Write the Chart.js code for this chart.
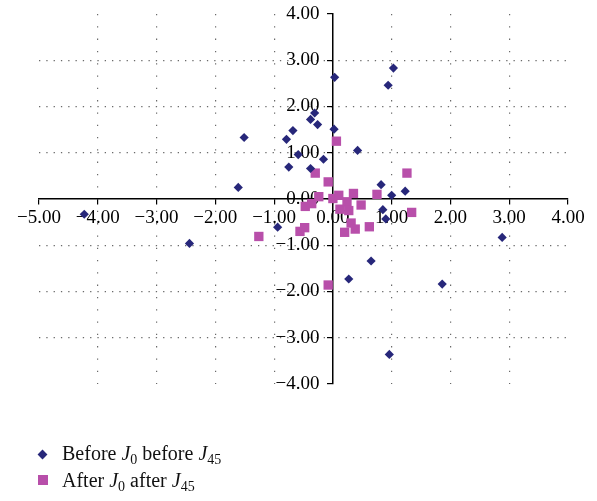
<!DOCTYPE html>
<html>
<head>
<meta charset="utf-8">
<script src="https://cdn.jsdelivr.net/npm/chart.js@4.4.1/dist/chart.umd.min.js"></script>
<style>
  body { margin: 0; background: #fff; }
  #wrap { position: relative; width: 597px; height: 501px; }
  #legend { position: absolute; left: 36px; top: 440px; font-family: "Liberation Serif", serif; font-size: 20px; color: #111; line-height: 27px; }
  #legend .row { white-space: nowrap; }
  #legend sub { font-size: 70%; vertical-align: -4px; line-height: 0; }
  .mk { display: inline-block; margin-right: 14px; vertical-align: 2px; }
  .dia { width: 7px; height: 7px; background: #27277a; transform: rotate(45deg); margin-left: 3px; margin-right: 16px; }
  .sq { width: 10px; height: 10px; background: #b84faa; margin-left: 2px; }
</style>
</head>
<body>
<div id="wrap">
  <canvas id="myChart"></canvas>
  <div id="legend">
    <div class="row"><span class="mk dia"></span>Before <i>J</i><sub>0</sub> before <i>J</i><sub>45</sub></div>
    <div class="row"><span class="mk sq"></span>After <i>J</i><sub>0</sub> after <i>J</i><sub>45</sub></div>
  </div>
</div>
<script>
// before: blue diamonds
var beforeX = [-4.23, -2.44, -1.61, -1.51, -0.94, -0.79, -0.75, -0.68, -0.59, -0.38, -0.31, -0.26, -0.38, -0.16, 0.02, 0.03, 0.42, 0.82, 0.85, 0.90, 0.94, 1.00, 1.03, 1.23, 2.88, 0.65, 0.27, 1.86, 0.96];
var beforeY = [-0.33, -0.96, 0.25, 1.33, -0.61, 1.29, 0.69, 1.48, 0.96, 1.72, 1.86, 1.61, 0.66, 0.86, 1.51, 2.63, 1.05, 0.31, -0.23, -0.43, 2.46, 0.08, 2.83, 0.17, -0.83, -1.34, -1.73, -1.84, -3.36];

// after: pink squares
var afterX = [-1.26, -0.56, -0.48, -0.47, -0.36, -0.30, -0.24, -0.08, -0.08, 0.00, 0.06, 0.10, 0.12, 0.20, 0.24, 0.27, 0.31, 0.35, 0.38, 0.48, 0.62, 0.75, 1.26, 1.34];
var afterY = [-0.81, -0.70, -0.62, -0.16, -0.10, 0.56, 0.05, 0.37, -1.86, 0.01, 1.25, 0.08, -0.22, -0.72, -0.06, -0.25, -0.52, 0.12, -0.65, -0.13, -0.60, 0.10, 0.56, -0.29];

var xMin = -5, xMax = 4;
var yMin = -4, yMax = 4;

function pts(xs, ys) {
    return xs.map(function (x, i) { return { x: x, y: ys[i] }; });
}

function fmt(v) {
    return v.toFixed(2).replace('-', '\u2212');
}

// y labels sit left of the axis; trailing en+thin space keeps them off the ticks
function fmtY(v) {
    return fmt(v) + '\u2002\u2009';
}

function gridColor(lo, hi) {
    return function (c) {
        var v = c.tick ? c.tick.value : null;
        if (v === lo || v === hi || v === 0) return 'rgba(0,0,0,0)';
        return '#6a6a6a';
    };
}

var tickFont = { family: '"Liberation Serif", serif', size: 19 };

var ctx = document.getElementById('myChart').getContext('2d');
new Chart(ctx, {
    type: 'scatter',
    data: {
        datasets: [{
            label: 'Before J0 before J45',
            data: pts(beforeX, beforeY),
            pointStyle: 'rectRot',
            pointRadius: 4.6,
            borderWidth: 0,
            backgroundColor: '#27277a'
        }, {
            label: 'After J0 after J45',
            data: pts(afterX, afterY),
            pointStyle: 'rect',
            pointRadius: 6.6,
            borderWidth: 0,
            backgroundColor: '#b84faa'
        }]
    },
    options: {
        responsive: true,
        maintainAspectRatio: false,
        animation: false,
        layout: { padding: { left: 39, right: 29, top: 14, bottom: 117 } },
        plugins: {
            legend: { display: false },
            tooltip: { enabled: false }
        },
        scales: {
            x: {
                type: 'linear',
                min: xMin, max: xMax,
                position: { y: 0 },
                ticks: { stepSize: 1, color: '#000', font: tickFont, padding: 3, maxRotation: 0, callback: fmt },
                grid: { color: gridColor(xMin, xMax), lineWidth: 1.2, tickColor: '#000', tickLength: 5 },
                border: { color: '#000', width: 1.5, dash: [1.3, 11] }
            },
            y: {
                type: 'linear',
                min: yMin, max: yMax,
                position: { x: 0 },
                ticks: { stepSize: 1, color: '#000', font: tickFont, padding: 0, callback: fmtY },
                grid: { color: gridColor(yMin, yMax), lineWidth: 1.2, tickColor: '#000', tickLength: 5 },
                border: { color: '#000', width: 1.5, dash: [1.3, 6] }
            }
        }
    }
});
</script>
</body>
</html>
